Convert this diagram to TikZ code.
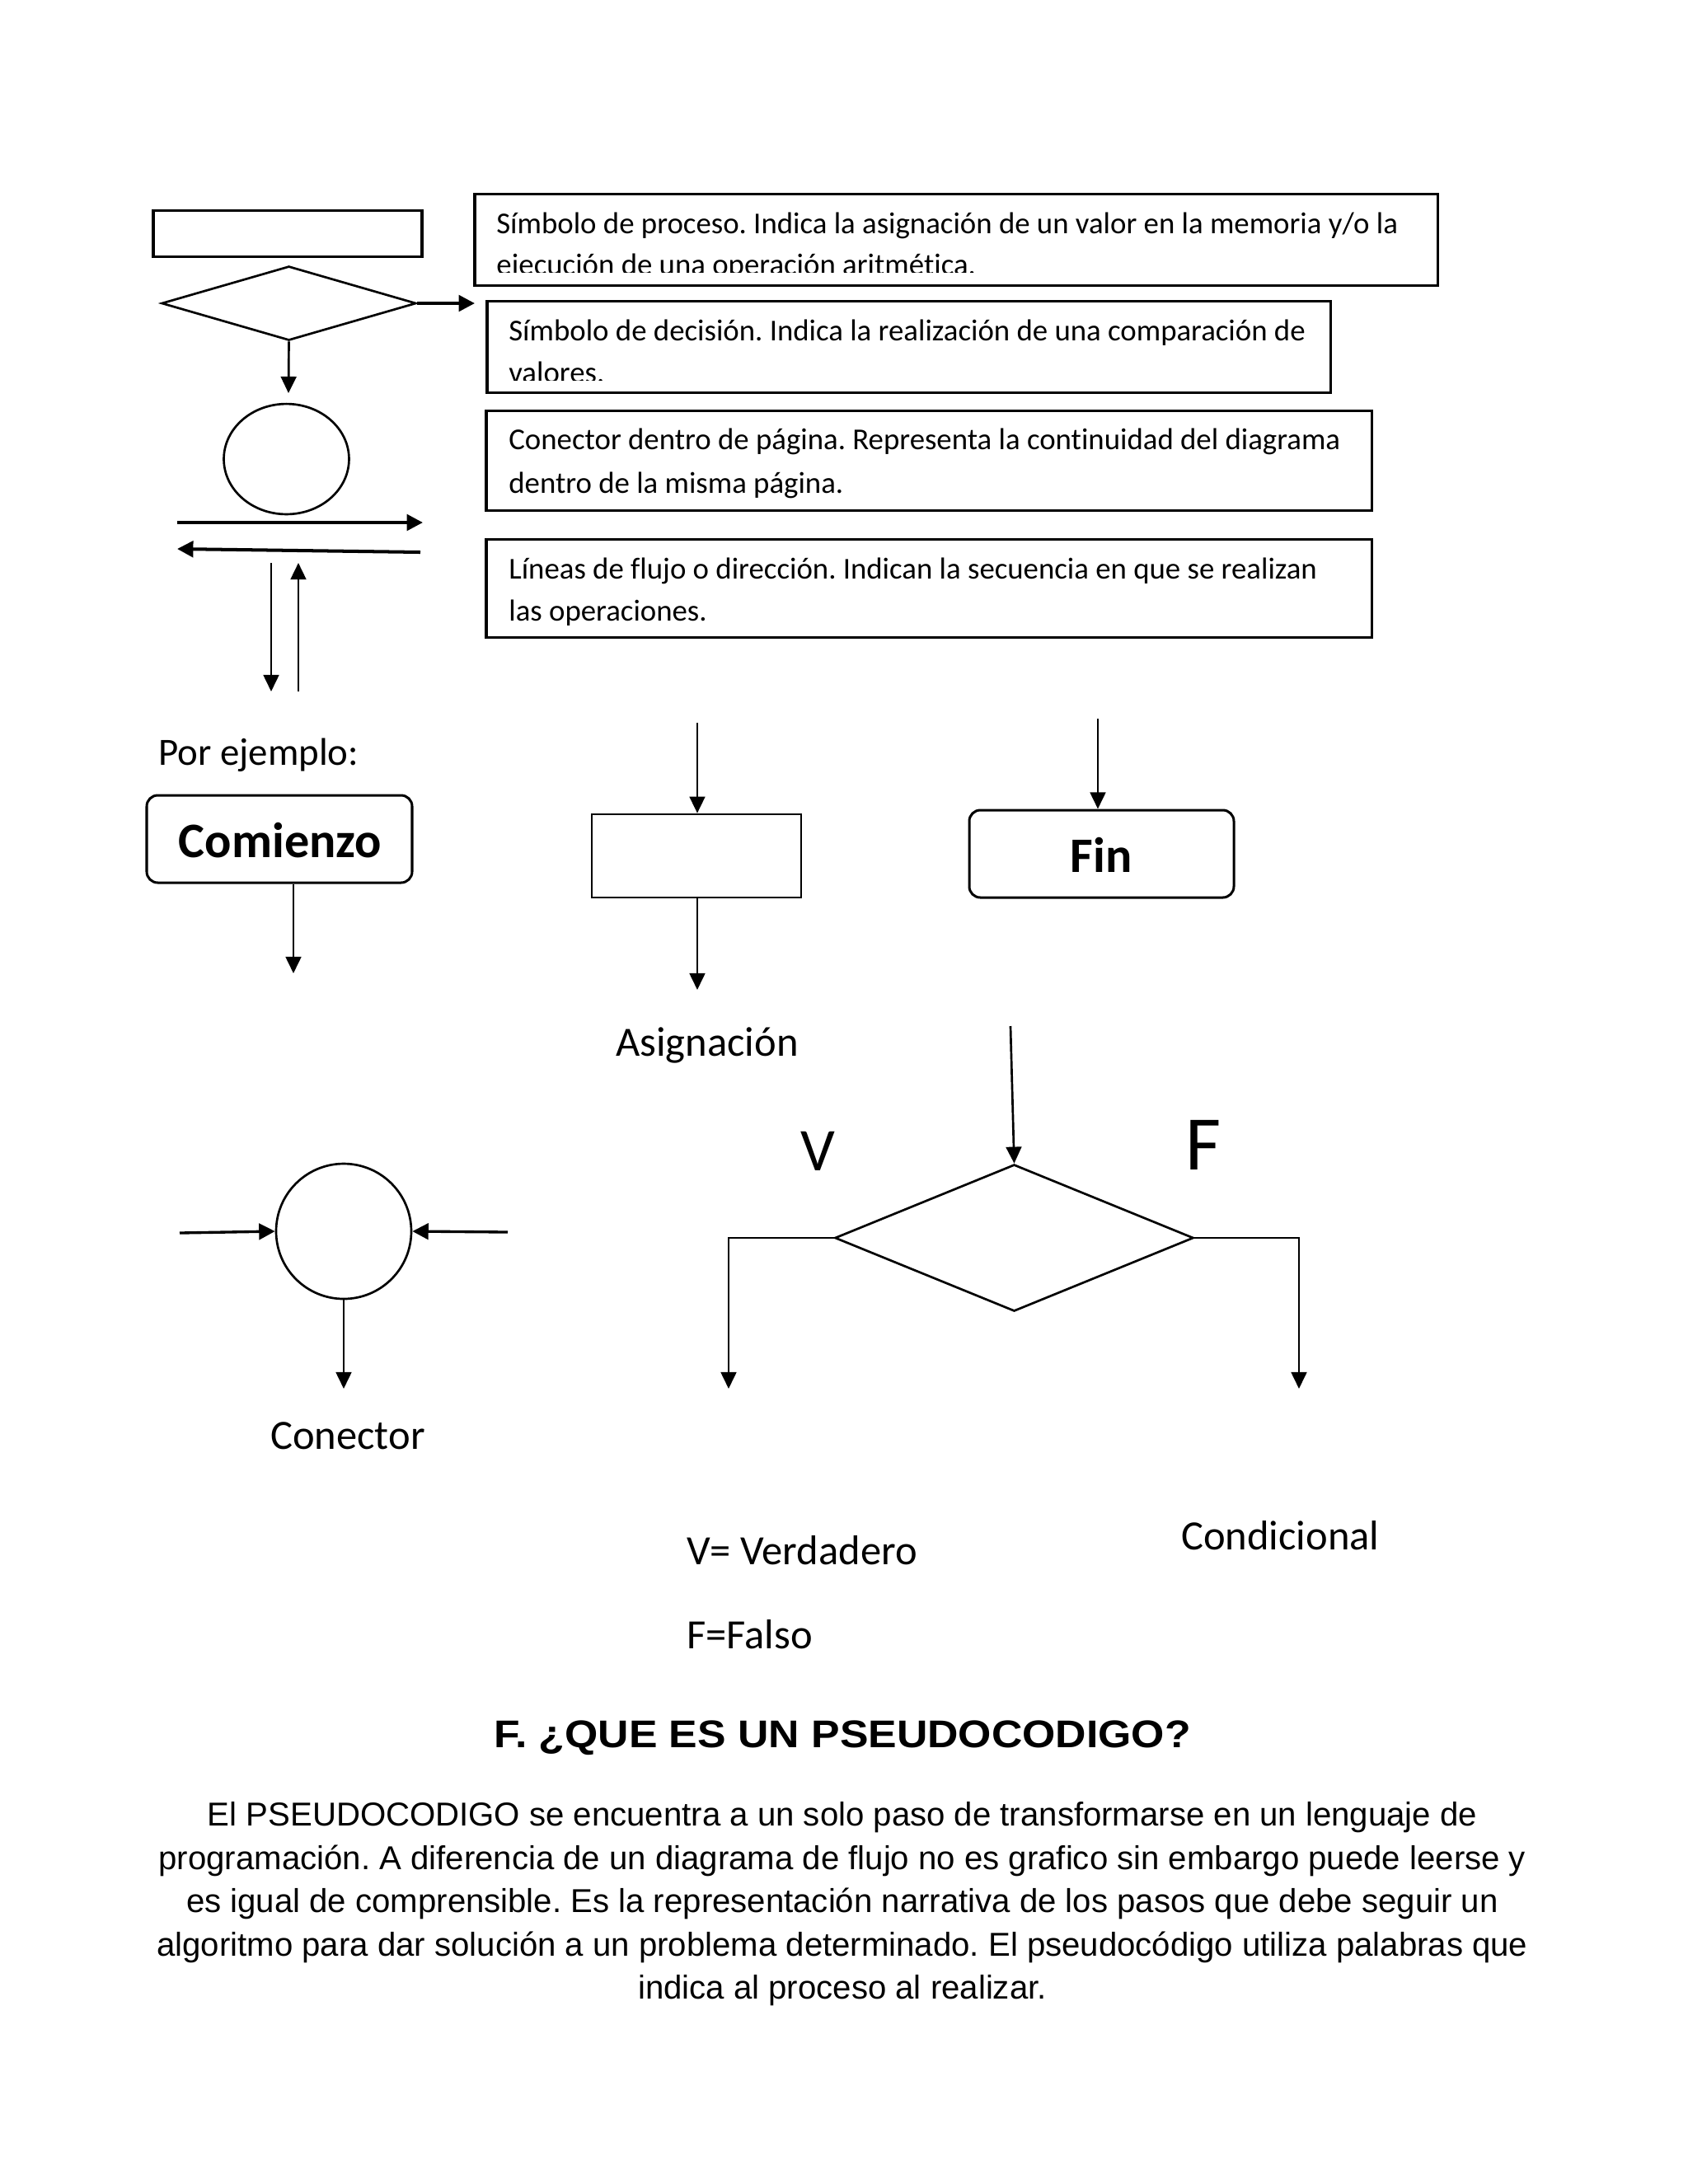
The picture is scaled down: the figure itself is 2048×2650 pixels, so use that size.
\documentclass[tikz,border=0pt]{standalone}
\usepackage{fontspec}
\setmainfont{Carlito}[Ligatures={NoCommon}]
\newfontfamily\arialfont{Liberation Sans}
\usetikzlibrary{shapes.geometric,arrows.meta,fit}
\frenchspacing

\begin{document}
\begin{tikzpicture}[x=0.2988pt,y=-0.2988pt,
  line width=0.8pt,
  boxline/.style={draw, line width=0.9pt, inner sep=0pt},
  roundbox/.style={draw, line width=0.9pt, inner sep=0pt, rounded corners=4pt},
  boldlbl/.style={anchor=base, inner sep=0pt, font=\fontsize{18}{22}\selectfont\bfseries},
  thinarrow/.style={-{Triangle[length=6pt,width=5.6pt]}, line width=0.8pt},
  thickarrow/.style={-{Triangle[length=5.8pt,width=5.8pt]}, line width=1.2pt},
  desc/.style={anchor=base west, inner sep=0pt, font=\fontsize{11}{13}\selectfont},
  lbl/.style={anchor=base west, inner sep=0pt, font=\fontsize{14}{17}\selectfont},
  biglbl/.style={anchor=base west, inner sep=0pt, font=\fontsize{15.1}{18}\selectfont},
  para/.style={anchor=base, inner sep=0pt, font=\arialfont\fontsize{12}{14}\selectfont},
]
\useasboundingbox (0,0) rectangle (2048,2650);

% ---------- legend: symbols ----------
\node[boxline, fit={(186,255) (512,311)}] (proc) {};
\node[draw, diamond, line width=0.8pt, inner sep=0pt, minimum width=92.3pt, minimum height=26.9pt] (dsmall) at (350.5,368) {};
\coordinate (dsR) at (576,368);
\coordinate (dsD) at (350,477);
\draw[thickarrow] (dsmall.east) -- (dsR);
\draw[thinarrow] (dsmall.south) -- (dsD);

\node[draw, ellipse, line width=0.8pt, inner sep=0pt, minimum width=45.4pt, minimum height=40pt] (conA) at (347.5,557) {};

\coordinate (rA1) at (215,634); \coordinate (rA2) at (513,634);
\draw[thickarrow] (rA1) -- (rA2);
\coordinate (lA1) at (510,670); \coordinate (lA2) at (215,666);
\draw[thickarrow] (lA1) -- (lA2);
\coordinate (dA1) at (329,683); \coordinate (dA2) at (329,839);
\draw[thinarrow] (dA1) -- (dA2);
\coordinate (uA1) at (362,839); \coordinate (uA2) at (362,683);
\draw[thinarrow] (uA1) -- (uA2);

% ---------- legend: description boxes ----------
\node[boxline, fit={(576,235) (1744,346)}] (b1) {};
\begin{scope}
\clip (576,235) rectangle (1744,330);
\node[desc] (b1t1) at (601,283) {Símbolo de proceso. Indica la asignación de un valor en la memoria y/o la};
\node[desc] (b1t2) at (601,333) {ejecución de una operación aritmética.};
\end{scope}

\node[boxline, fit={(591,365) (1614,476)}] (b2) {};
\begin{scope}
\clip (591,365) rectangle (1614,461);
\node[desc] (b2t1) at (616,413) {Símbolo de decisión. Indica la realización de una comparación de};
\node[desc] (b2t2) at (616,464) {valores.};
\end{scope}

\node[boxline, fit={(590,498) (1664,619)}] (b3) {};
\node[desc] (b3t1) at (616,545) {Conector dentro de página. Representa la continuidad del diagrama};
\node[desc] (b3t2) at (616,598) {dentro de la misma página.};

\node[boxline, fit={(590,654) (1664,773)}] (b4) {};
\node[desc] (b4t1) at (616,702) {Líneas de flujo o dirección. Indican la secuencia en que se realizan};
\node[desc] (b4t2) at (616,753) {las operaciones.};

% ---------- examples ----------
\node[lbl] (ejemplo) at (191,928) {Por ejemplo:};

\node[roundbox, fit={(178,965) (500,1071)}] (com) {};
\node[boldlbl] (comT) at (340,1040) {Comienzo};
\coordinate (comA) at (356,1181);
\draw[thinarrow] (com.south -| comA) -- (comA);

\node[boxline, line width=0.8pt, fit={(718,988) (972,1089)}] (asig) {};
\coordinate (asigIn) at (846,877);
\coordinate (asigOut) at (846,1201);
\draw[thinarrow] (asigIn) -- (asigIn |- asig.north);
\draw[thinarrow] (asigOut |- asig.south) -- (asigOut);
\node[biglbl] (asigL) at (746,1281) {Asignación};

\node[roundbox, fit={(1176,983) (1497,1089)}] (fin) {};
\node[boldlbl] (finT) at (1336,1058) {Fin};
\coordinate (finIn) at (1332,872);
\draw[thinarrow] (finIn) -- (finIn |- fin.north);

% ---------- conector ----------
\node[draw, circle, line width=0.8pt, inner sep=0pt, minimum size=49pt] (con) at (417,1494) {};
\coordinate (conL) at (218,1496);
\coordinate (conR) at (616,1495);
\coordinate (conD) at (417,1685);
\draw[thickarrow, line width=1pt] (conL) -- (con.west);
\draw[thickarrow, line width=1pt] (conR) -- (con.east);
\draw[thinarrow] (con.south) -- (conD);
\node[biglbl] (conLbl) at (327,1758) {Conector};

% ---------- condicional ----------
\node[draw, diamond, line width=0.8pt, inner sep=0pt, minimum width=130pt, minimum height=53.2pt] (dia) at (1230.5,1502) {};
\coordinate (diaIn) at (1226,1245);
\coordinate (vEnd) at (884,1685);
\coordinate (fEnd) at (1576,1685);
\draw[thinarrow] (diaIn) -- (dia.north);
\draw[thinarrow] (dia.west) -| (vEnd);
\draw[thinarrow] (dia.east) -| (fEnd);
\node[anchor=base west, inner sep=0pt, font=\fontsize{22}{26}\selectfont] (vL) at (970,1420) {V};
\node[anchor=base west, inner sep=0pt, font=\fontsize{28}{32}\selectfont] (fL) at (1437,1419) {F};

\node[biglbl] (verd) at (832,1898) {V= Verdadero};
\node[biglbl] (cond) at (1432,1880) {Condicional};
\node[biglbl] (falso) at (832,2000) {F=Falso};

% ---------- pseudocodigo ----------
\node[anchor=base, inner sep=0pt, font=\arialfont\bfseries\fontsize{14}{17}\selectfont] (title) at (1022,2120) {\scalebox{1.105}[1]{F. ¿QUE ES UN PSEUDOCODIGO?}};
\node[para] (p1) at (1022,2215) {El PSEUDOCODIGO se encuentra a un solo paso de transformarse en un lenguaje de};
\node[para] (p2) at (1022,2268) {programación. A diferencia de un diagrama de flujo no es grafico sin embargo puede leerse y};
\node[para] (p3) at (1022,2320) {es igual de comprensible. Es la representación narrativa de los pasos que debe seguir un};
\node[para] (p4) at (1022,2373) {algoritmo para dar solución a un problema determinado. El pseudocódigo utiliza palabras que};
\node[para] (p5) at (1022,2425) {indica al proceso al realizar.};
\end{tikzpicture}
\end{document}
